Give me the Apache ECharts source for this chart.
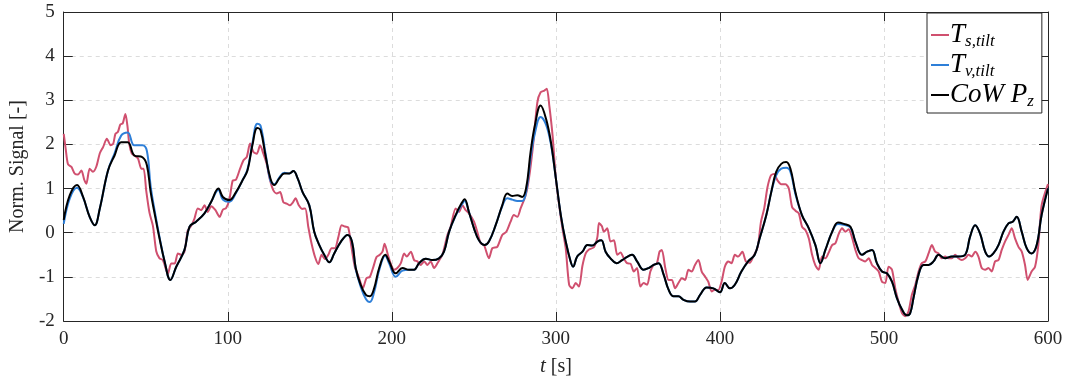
<!DOCTYPE html>
<html>
<head>
<meta charset="utf-8">
<script src="https://cdn.jsdelivr.net/npm/echarts@6/dist/echarts.min.js"></script>
<style>
html,body{margin:0;padding:0;background:#fff;}
#c{width:1069px;height:382px;}
</style>
</head>
<body>
<div id="c"></div>
<script>
// time stamps [s] shared by T_v,tilt and CoWP_z
const tK = [0,3.7,8.1,11.8,15.8,18.9,22,27,31,35,
39,43,48,50.7,53,56,58.4,61.5,65,68.6,
73.6,76.7,80.7,85.8,89.9,94.3,97,101,105,109,
112,115,118,120,123,126,128.4,131.4,134.5,137.5,
140,142.6,145.6,149.7,152.7,155.8,158.8,161.9,164.9,169,
173,175.7,178,181,184.2,186.6,189.2,192.3,196,198.4,
202.4,206.5,210.5,213.6,216.6,220.7,224.7,228.8,231.8,234.9,
238.9,242.4,244.4,247,250.1,253.1,256.6,259.2,263.3,267.3,
270.4,273.4,276.5,279.5,282,284.6,287.2,290.7,294,297,
300,303,306,309,310.5,313,316.2,319.2,322.2,325.3,
327.7,330.3,333.3,337,340.4,343.8,346.5,349.5,353.5,356.6,
359.6,362.6,365.7,368.7,371.7,374.7,377.8,381.8,384.8,387.9,
391.9,396,400,403,406.1,409.1,413.1,417.2,421.2,424.2,
428.3,431.3,434.3,437.4,440.4,443,446,450,454.2,458.2,
461.3,464.3,468.4,472,475.5,479.5,482.6,486.6,489.7,492.7,
495.7,498.8,501.8,504.9,507.9,511,514,516,518,521.1,
524.1,527.2,530.2,533.3,537.3,541.4,545.4,549.5,552.5,555.6,
558.6,561.7,564.1,566.7,569.8,572.8,575.9,578.5,580.9,584,
587,590,593.1,596.1,600];

// CoWP_z
const cowpZ = [0.29,0.85,1.08,0.81,0.36,0.17,0.55,1.41,1.75,2.05,
2.05,1.75,1.71,1.53,0.92,0.32,-0.13,-0.65,-1.07,-0.77,
-0.39,0.14,0.25,0.44,0.70,1.0,0.81,0.74,0.92,1.19,
1.41,1.98,2.37,2.32,1.75,1.23,1.08,1.23,1.34,1.34,
1.40,1.23,0.92,0.62,0.02,-0.28,-0.5,-0.67,-0.47,-0.2,
-0.05,-0.2,-0.8,-1.18,-1.41,-1.44,-1.26,-0.8,-0.5,-0.65,
-0.92,-0.8,-0.84,-0.84,-0.69,-0.59,-0.62,-0.58,-0.43,0.02,
0.4,0.66,0.76,0.47,0.10,-0.17,-0.28,-0.2,0.17,0.62,
0.89,0.83,0.85,0.81,1.04,1.83,2.43,2.88,2.58,2.05,
1.23,0.4,-0.2,-0.65,-0.77,-0.54,-0.43,-0.28,-0.29,-0.2,
-0.17,-0.43,-0.58,-0.69,-0.62,-0.54,-0.5,-0.65,-0.84,-0.8,
-0.73,-0.69,-0.95,-1.29,-1.44,-1.44,-1.52,-1.56,-1.56,-1.41,
-1.24,-1.26,-1.35,-1.14,-1.26,-1.18,-0.88,-0.65,-0.5,-0.13,
0.4,0.92,1.38,1.56,1.6,1.45,0.92,0.4,0.1,-0.28,
-0.69,-0.39,0.02,0.23,0.2,0.14,-0.2,-0.5,-0.43,-0.39,
-0.69,-0.88,-0.92,-1.11,-1.48,-1.74,-1.87,-1.82,-1.48,-0.95,
-0.73,-0.73,-0.65,-0.5,-0.58,-0.54,-0.54,-0.5,-0.09,0.17,
-0.02,-0.43,-0.54,-0.47,-0.28,0.02,0.21,0.25,0.36,0.02,
-0.35,-0.47,-0.28,0.4,1.0];

// T_v,tilt
const tvTilt = [0.2,0.78,1.02,0.8,0.36,0.17,0.55,1.41,1.8,2.2,
2.27,1.98,1.98,1.85,1.05,0.38,-0.1,-0.65,-1.07,-0.77,
-0.39,0.14,0.25,0.44,0.70,0.97,0.75,0.7,0.9,1.19,
1.43,2.02,2.47,2.42,1.8,1.18,1.1,1.25,1.36,1.34,
1.40,1.23,0.92,0.62,0.02,-0.28,-0.5,-0.67,-0.47,-0.2,
-0.05,-0.2,-0.82,-1.22,-1.5,-1.57,-1.35,-0.85,-0.52,-0.7,
-1.0,-0.86,-0.84,-0.84,-0.69,-0.59,-0.62,-0.58,-0.43,0.02,
0.38,0.62,0.72,0.47,0.10,-0.17,-0.28,-0.2,0.17,0.6,
0.78,0.75,0.72,0.72,0.95,1.7,2.25,2.62,2.45,2.0,
1.23,0.4,-0.2,-0.65,-0.77,-0.54,-0.43,-0.28,-0.29,-0.2,
-0.17,-0.43,-0.58,-0.69,-0.62,-0.54,-0.5,-0.65,-0.84,-0.8,
-0.73,-0.69,-0.95,-1.29,-1.44,-1.44,-1.52,-1.56,-1.56,-1.41,
-1.24,-1.26,-1.35,-1.14,-1.26,-1.18,-0.88,-0.65,-0.5,-0.13,
0.4,0.92,1.3,1.45,1.47,1.38,0.88,0.4,0.1,-0.28,
-0.69,-0.39,0.02,0.2,0.18,0.12,-0.2,-0.5,-0.43,-0.39,
-0.69,-0.88,-0.92,-1.11,-1.48,-1.74,-1.87,-1.82,-1.48,-0.95,
-0.73,-0.73,-0.65,-0.5,-0.58,-0.54,-0.54,-0.5,-0.09,0.17,
-0.02,-0.43,-0.54,-0.47,-0.28,0.02,0.21,0.25,0.36,0.02,
-0.35,-0.47,-0.28,0.4,1.0];

// T_s,tilt as [t, value]
const tsTilt = [[0,2.24],[1.2,1.9],[2.6,1.55],[4.7,1.49],[6.7,1.34],[8.7,1.32],[10.8,1.41],[12.5,1.2],[13.8,1.11],[15.8,1.45],
[17.8,1.38],[19.9,1.5],[22,1.8],[24,1.94],[26.3,2.13],[28.6,1.98],[30.2,2.02],[31.5,2.24],[33,2.28],[34.5,2.45],
[36,2.48],[37.6,2.69],[38.8,2.43],[40,2.0],[41.5,1.79],[43,1.75],[45.3,1.68],[47.3,1.45],[48.7,1.45],[50.3,0.95],
[52.3,0.45],[54.4,0.15],[56.4,-0.42],[58.4,-0.58],[60.4,-0.62],[62.5,-0.85],[63.5,-0.93],[65.5,-0.7],[67.6,-0.7],[69.6,-0.47],
[71.6,-0.5],[73.6,-0.43],[75.6,0.05],[77.6,0.15],[79.7,0.32],[81.7,0.55],[83.8,0.51],[85.8,0.62],[87.8,0.47],[89.9,0.6],
[92.5,0.51],[95,0.36],[97,0.52],[99,0.56],[101,0.75],[103,1.18],[105,1.2],[107.5,1.45],[109.6,1.64],[111.6,1.72],
[113.6,2.02],[115.6,1.83],[117.7,1.79],[119.7,1.98],[121.7,1.79],[123.7,1.56],[125.7,1.2],[127.8,0.96],[129.8,0.89],[131.9,0.92],
[133.9,0.69],[135.9,0.66],[137.9,0.62],[139.6,0.68],[141.3,0.78],[143.3,0.62],[145.3,0.54],[147.2,0.55],[149.1,0.13],[151.1,-0.25],
[153.2,-0.55],[155.2,-0.71],[157.2,-0.5],[159.3,-0.6],[161.3,-0.5],[163.3,-0.35],[165.3,-0.35],[167.4,-0.1],[169.4,0.17],[171.4,0.14],
[173.4,0.12],[175.5,-0.35],[177.5,-0.78],[179.5,-0.97],[182.4,-1.25],[184.5,-1.03],[186.6,-1.0],[188.7,-0.78],[190.7,-0.55],[192.7,-0.5],
[194.3,-0.43],[195.6,-0.25],[197.6,-0.5],[199.6,-0.73],[201.4,-0.84],[203.4,-0.8],[205.5,-0.69],[207.5,-0.47],[209.1,-0.54],[211.6,-0.43],
[213.6,-0.62],[215.6,-0.65],[217.6,-0.73],[219.7,-0.65],[221.7,-0.73],[223.7,-0.65],[225.8,-0.8],[227.8,-0.69],[230.8,-0.5],[233.9,-0.05],
[235.9,0.14],[238.9,0.55],[241,0.47],[243,0.62],[245,0.51],[247,0.44],[250.1,0.25],[252.1,0.02],[254.2,-0.24],[256.2,-0.28],
[259.2,-0.58],[261.3,-0.35],[264.3,-0.32],[267.3,-0.05],[269.8,0.02],[272.4,0.25],[274.4,0.4],[276.5,0.36],[278.5,0.55],[281.6,0.85],
[283.6,1.23],[286.1,1.98],[288.7,2.95],[290.7,3.18],[293,3.22],[294.5,3.26],[296,2.88],[298,2.2],[300,1.23],[302,0.62],
[304,0.1],[306,-0.35],[308.1,-1.18],[310.1,-1.26],[312.1,-1.14],[314.1,-1.22],[316.2,-0.75],[318.2,-0.47],[320.2,-0.38],[323.2,-0.33],
[325.3,-0.1],[326.3,0.22],[328,0.15],[329.3,0.02],[331.3,0.1],[333.3,-0.2],[335.4,-0.17],[337.4,-0.5],[339.4,-0.45],[341.4,-0.58],
[343.4,-0.69],[345.5,-0.7],[347.5,-0.88],[349.5,-0.8],[351.5,-1.22],[353.5,-1.14],[355.6,-1.18],[357.6,-0.88],[359.6,-0.73],[361.6,-0.69],
[363.2,-0.43],[364.6,-0.39],[366.7,-0.8],[368.7,-1.07],[370.7,-1.07],[372.7,-1.26],[374.7,-1.14],[376.8,-1.03],[378.8,-1.07],[380.8,-0.84],
[382.8,-0.88],[384.8,-0.73],[386.9,-0.62],[388.9,-0.88],[390.9,-0.99],[392.9,-1.11],[395,-1.33],[397,-1.29],[399,-1.3],[401,-1.11],
[403,-0.77],[405.1,-0.65],[407.1,-0.69],[409.1,-0.5],[411.1,-0.54],[413.7,-0.43],[415.8,-0.65],[418.2,-0.68],[420.2,-0.55],[423,-0.33],
[425,0.24],[427,0.55],[429,1.03],[431.1,1.3],[433,1.33],[435.2,1.18],[437.4,1.1],[440,1.1],[442,1.0],[444,0.58],
[446,0.5],[448.1,0.44],[450.1,0.13],[452.1,0.06],[454.2,-0.13],[456.2,-0.5],[458.2,-0.74],[460.2,-0.84],[462.3,-0.54],[464.3,-0.58],
[466.3,-0.45],[468.4,-0.28],[470.4,-0.24],[472.5,-0.02],[474.5,0.1],[476.5,0.02],[478.5,0.08],[480.5,-0.1],[482.6,-0.39],[484.6,-0.58],
[486.6,-0.62],[488.6,-0.65],[490.7,-0.58],[492.7,-0.73],[494.7,-0.8],[496.8,-0.88],[498.8,-1.11],[500.8,-1.14],[502.8,-0.77],[504.9,-0.84],
[506.9,-1.26],[508.9,-1.56],[511,-1.82],[513,-1.89],[515,-1.78],[517,-1.41],[519.1,-1.18],[521.1,-0.88],[523.1,-0.69],[525.2,-0.65],
[527.2,-0.47],[529.2,-0.28],[531.2,-0.43],[533.3,-0.47],[535.3,-0.58],[537.3,-0.54],[539.3,-0.58],[541.4,-0.58],[543.4,-0.5],[545.4,-0.58],
[547.5,-0.62],[549.5,-0.58],[551.5,-0.5],[553.5,-0.54],[555.6,-0.43],[557.6,-0.54],[559.6,-0.8],[561.7,-0.84],[563.7,-0.8],[565.7,-0.88],
[567.7,-0.65],[569.8,-0.62],[571.8,-0.39],[573.8,-0.2],[575.9,-0.05],[577.9,0.1],[579.9,-0.13],[582,-0.32],[584,-0.43],[586,-0.73],
[587.6,-1.07],[590,-0.88],[592.1,-0.77],[594.1,-0.28],[596.1,0.62],[600,1.1]];

const xTicks = [0, 600, 100];   // min, max, step
const yTicks = [-2, 5, 1];
const seriesNames = ['Ts', 'Tv', 'CoWP'];

const SERIF = '"Liberation Serif", "DejaVu Serif", serif';
const AX = '#262626';

const zip = (t, v) => t.map((x, i) => [x, v[i]]);

const legendText = {
  Ts: '{m|T}{s|s,tilt}',
  Tv: '{m|T}{s|v,tilt}',
  CoWP: '{m|CoW P}{s|z}'
};

const chart = echarts.init(document.getElementById('c'), null, {renderer: 'canvas'});

const baseX = {
  type: 'value', min: xTicks[0], max: xTicks[1], interval: xTicks[2]
};
const baseY = {
  type: 'value', min: yTicks[0], max: yTicks[1], interval: yTicks[2]
};

chart.setOption({
  animation: false,
  backgroundColor: '#fff',
  grid: {left: 62, right: 21, top: 12, bottom: 61, containLabel: false},
  xAxis: [
    Object.assign({}, baseX, {
      position: 'bottom',
      axisLine: {show: true, onZero: false, lineStyle: {color: AX, width: 1}},
      axisTick: {show: true, inside: true, length: 9, lineStyle: {color: AX}},
      axisLabel: {color: AX, fontFamily: SERIF, fontSize: 19, margin: 9},
      splitLine: {show: true, lineStyle: {color: '#dcdcdc', type: [4, 4], width: 1}},
      name: '{i|t} [s]',
      nameLocation: 'middle',
      nameGap: 35,
      nameTextStyle: {color: AX, fontFamily: SERIF, fontSize: 20,
        rich: {i: {fontFamily: SERIF, fontStyle: 'italic', fontSize: 21, color: AX}}}
    }),
    Object.assign({}, baseX, {
      position: 'top',
      axisLine: {show: true, onZero: false, lineStyle: {color: AX, width: 1}},
      axisTick: {show: true, inside: true, length: 9, lineStyle: {color: AX}},
      axisLabel: {show: false},
      splitLine: {show: false}
    })
  ],
  yAxis: [
    Object.assign({}, baseY, {
      position: 'left',
      axisLine: {show: true, onZero: false, lineStyle: {color: AX, width: 1}},
      axisTick: {show: true, inside: true, length: 9, lineStyle: {color: AX}},
      axisLabel: {color: AX, fontFamily: SERIF, fontSize: 19, margin: 9},
      splitLine: {show: true, lineStyle: {color: '#dcdcdc', type: [4, 4], width: 1}},
      name: 'Norm. Signal [-]',
      nameLocation: 'middle',
      nameGap: 30,
      nameTextStyle: {color: AX, fontFamily: SERIF, fontSize: 20}
    }),
    Object.assign({}, baseY, {
      position: 'right',
      axisLine: {show: true, onZero: false, lineStyle: {color: AX, width: 1}},
      axisTick: {show: true, inside: true, length: 9, lineStyle: {color: AX}},
      axisLabel: {show: false},
      splitLine: {show: false}
    })
  ],
  legend: {
    left: 927, top: 13,
    orient: 'vertical',
    itemWidth: 18, itemHeight: 2,
    itemGap: 0,
    icon: 'rect',
    padding: [7, 8, 3, 4],
    borderColor: AX, borderWidth: 1, borderRadius: 0,
    backgroundColor: '#fff',
    data: seriesNames,
    formatter: n => legendText[n],
    textStyle: {
      color: '#000', fontFamily: SERIF, padding: [0, 0, 0, -4],
      rich: {
        m: {fontFamily: SERIF, fontStyle: 'italic', fontSize: 27, color: '#000', lineHeight: 30},
        s: {fontFamily: SERIF, fontStyle: 'italic', fontSize: 17, color: '#000', lineHeight: 30, padding: [13, 0, 0, 0]}
      }
    }
  },
  series: [
    {name: 'Ts', type: 'line', data: tsTilt, showSymbol: false, smooth: 0.25,
     lineStyle: {color: '#d0506f', width: 2}, itemStyle: {color: '#d0506f'}, z: 2},
    {name: 'Tv', type: 'line', data: zip(tK, tvTilt), showSymbol: false, smooth: 0.4,
     lineStyle: {color: '#2e7fd8', width: 2}, itemStyle: {color: '#2e7fd8'}, z: 3},
    {name: 'CoWP', type: 'line', data: zip(tK, cowpZ), showSymbol: false, smooth: 0.4,
     lineStyle: {color: '#000000', width: 2}, itemStyle: {color: '#000000'}, z: 4}
  ]
});
</script>
</body>
</html>
